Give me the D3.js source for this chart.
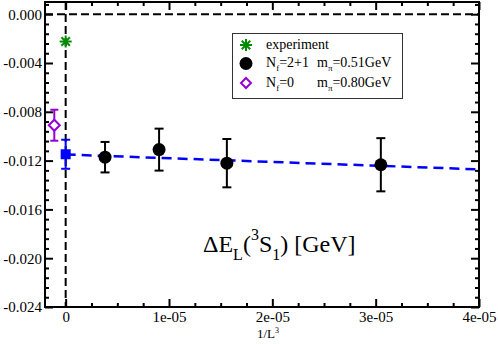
<!DOCTYPE html>
<html>
<head>
<meta charset="utf-8">
<script src="https://cdn.jsdelivr.net/npm/d3@7"></script>
<style>
  body { margin: 0; background: #fff; }
  svg { display: block; font-family: "Liberation Serif", "Times New Roman", serif; }
  .axis path.domain { display: none; }
  .axis line { stroke: #000; stroke-width: 2; }
</style>
</head>
<body>
<svg id="chart" width="498" height="344"></svg>
<script>
// osie
const xTicks = [0, 1e-5, 2e-5, 3e-5, 4e-5];
const xTickLabels = ["0", "1e-05", "2e-05", "3e-05", "4e-05"];
const yTicks = [-0.024, -0.020, -0.016, -0.012, -0.008, -0.004, 0.000];
const yTickLabels = ["-0.024", "-0.020", "-0.016", "-0.012", "-0.008", "-0.004", "0.000"];

// Nf=2+1, m_pi=0.51GeV
const nf21X = [3.81e-6, 9.04e-6, 15.6e-6, 30.5e-6];
const nf21E = [-0.01172, -0.01110, -0.01221, -0.01234];
const nf21Err = [0.00125, 0.00172, 0.00198, 0.00218];

// Nf=0, m_pi=0.80GeV
const nf0X = [-1.1e-6];
const nf0E = [-0.0091];
const nf0Err = [0.00127];

// ekstrapolacja L -> inf
const extrapX = [0];
const extrapE = [-0.01148];
const extrapErr = [0.00119];

// eksperyment
const expX = [0];
const expE = [-0.00224];

// dopasowanie liniowe
const fitX = [0, 4e-5];
const fitE = [-0.01150, -0.01272];

const FONT = '"Liberation Serif", "Times New Roman", serif';

const svg = d3.select('#chart');
const margin = { top: 2, right: 19, bottom: 37, left: 45 };
const width = +svg.attr('width') - margin.left - margin.right;
const height = +svg.attr('height') - margin.top - margin.bottom;
const g = svg.append('g').attr('transform', `translate(${margin.left},${margin.top})`);

const x = d3.scaleLinear().domain([-2e-6, 4e-5]).range([0, width]);
const y = d3.scaleLinear().domain([-0.024, 0.001]).range([height, 0]);

svg.append('defs').append('clipPath').attr('id', 'clip')
    .append('rect').attr('width', width).attr('height', height);

// linie przerywane zero
const plot = g.append('g').attr('clip-path', 'url(#clip)');
plot.append('line')
    .attr('x1', 0).attr('x2', width)
    .attr('y1', y(0)).attr('y2', y(0))
    .attr('stroke', '#000').attr('stroke-width', 2).attr('stroke-dasharray', '8,4');
plot.append('line')
    .attr('x1', x(0)).attr('x2', x(0))
    .attr('y1', 0).attr('y2', height)
    .attr('stroke', '#000').attr('stroke-width', 2).attr('stroke-dasharray', '8,4');

// podzialki pomocnicze
const xMinor = d3.range(-2.5e-6, 4.01e-5, 2.5e-6).filter(v => Math.abs(v / 1e-5 - Math.round(v / 1e-5)) > 1e-6 && v >= -2e-6);
const yMinor = d3.range(-0.024, 0.0011, 0.0008).filter(v => Math.abs(v / 0.004 - Math.round(v / 0.004)) > 1e-6);

function styleAxis(sel) {
    sel.attr('class', 'axis').attr('font-family', FONT).attr('font-size', 15);
    sel.selectAll('text').attr('fill', '#000');
}

g.append('g')
    .attr('transform', `translate(0,${height})`)
    .call(d3.axisBottom(x).tickValues(xTicks).tickSize(-8).tickSizeOuter(0).tickPadding(4)
        .tickFormat((d, i) => xTickLabels[i]))
    .call(styleAxis);
g.append('g')
    .attr('transform', `translate(0,${height})`)
    .call(d3.axisBottom(x).tickValues(xMinor).tickSize(-4).tickSizeOuter(0).tickFormat(''))
    .call(styleAxis);
g.append('g')
    .call(d3.axisTop(x).tickValues(xTicks).tickSize(-8).tickSizeOuter(0).tickFormat(''))
    .call(styleAxis);
g.append('g')
    .call(d3.axisTop(x).tickValues(xMinor).tickSize(-4).tickSizeOuter(0).tickFormat(''))
    .call(styleAxis);

g.append('g')
    .call(d3.axisLeft(y).tickValues(yTicks).tickSize(-8).tickSizeOuter(0).tickPadding(3)
        .tickFormat((d, i) => yTickLabels[i]))
    .call(styleAxis);
g.append('g')
    .call(d3.axisLeft(y).tickValues(yMinor).tickSize(-4).tickSizeOuter(0).tickFormat(''))
    .call(styleAxis);
g.append('g')
    .attr('transform', `translate(${width},0)`)
    .call(d3.axisRight(y).tickValues(yTicks).tickSize(-8).tickSizeOuter(0).tickFormat(''))
    .call(styleAxis);
g.append('g')
    .attr('transform', `translate(${width},0)`)
    .call(d3.axisRight(y).tickValues(yMinor).tickSize(-4).tickSizeOuter(0).tickFormat(''))
    .call(styleAxis);

// ramka
g.append('rect')
    .attr('width', width).attr('height', height)
    .attr('fill', 'none').attr('stroke', '#000').attr('stroke-width', 2);

// linia dopasowania
const fitData = fitX.map((v, i) => ({ x: v, e: fitE[i] }));
plot.append('path')
    .datum(fitData)
    .attr('fill', 'none')
    .attr('stroke', '#0000ff')
    .attr('stroke-width', 2.5)
    .attr('stroke-dasharray', '10,6')
    .attr('d', d3.line().x(d => x(d.x)).y(d => y(d.e)));

// slupki bledow
function errorBars(xs, es, errs, color, cap) {
    const data = xs.map((v, i) => ({ x: v, e: es[i], err: errs[i] }));
    const eg = g.append('g').attr('stroke', color).attr('stroke-width', 2);
    eg.selectAll('.bar').data(data).enter().append('line')
        .attr('x1', d => x(d.x)).attr('x2', d => x(d.x))
        .attr('y1', d => y(d.e + d.err)).attr('y2', d => y(d.e - d.err));
    eg.selectAll('.capTop').data(data).enter().append('line')
        .attr('x1', d => x(d.x) - cap).attr('x2', d => x(d.x) + cap)
        .attr('y1', d => y(d.e + d.err)).attr('y2', d => y(d.e + d.err));
    eg.selectAll('.capBot').data(data).enter().append('line')
        .attr('x1', d => x(d.x) - cap).attr('x2', d => x(d.x) + cap)
        .attr('y1', d => y(d.e - d.err)).attr('y2', d => y(d.e - d.err));
}

errorBars(nf21X, nf21E, nf21Err, '#000', 4.5);
errorBars(nf0X, nf0E, nf0Err, '#9400d3', 4);
errorBars(extrapX, extrapE, extrapErr, '#0000ff', 4.5);

// symbole
function star(sel, cx, cy, r, color) {
    const s = sel.append('g').attr('stroke', color).attr('stroke-width', 2);
    [0, 45, 90, 135].forEach(a => {
        const dx = r * Math.cos(a * Math.PI / 180), dy = r * Math.sin(a * Math.PI / 180);
        s.append('line').attr('x1', cx - dx).attr('x2', cx + dx).attr('y1', cy - dy).attr('y2', cy + dy);
    });
}
function diamond(sel, cx, cy, r, color) {
    sel.append('path')
        .attr('d', `M${cx},${cy - r}L${cx + r},${cy}L${cx},${cy + r}L${cx - r},${cy}Z`)
        .attr('fill', '#fff').attr('stroke', color).attr('stroke-width', 2);
}

g.selectAll('.pt21').data(nf21X).enter().append('circle')
    .attr('cx', d => x(d)).attr('cy', (d, i) => y(nf21E[i]))
    .attr('r', 6.5).attr('fill', '#000');

nf0X.forEach((v, i) => diamond(g, x(v), y(nf0E[i]), 5.5, '#9400d3'));

g.selectAll('.ptEx').data(extrapX).enter().append('rect')
    .attr('x', d => x(d) - 5).attr('y', (d, i) => y(extrapE[i]) - 5)
    .attr('width', 10).attr('height', 10).attr('fill', '#0000ff');

expX.forEach((v, i) => star(g, x(v), y(expE[i]), 6, '#008b00'));

// legenda
const leg = svg.append('g');
leg.append('rect')
    .attr('x', 232.5).attr('y', 33.5).attr('width', 170).attr('height', 65)
    .attr('fill', '#fff').attr('stroke', '#333').attr('stroke-width', 1);
star(leg, 246, 45, 6, '#008b00');
leg.append('circle').attr('cx', 246).attr('cy', 63.5).attr('r', 6.5).attr('fill', '#000');
diamond(leg, 246, 83, 5, '#9400d3');

const lt = leg.append('g').attr('font-size', '14px').attr('fill', '#000');
lt.append('text').attr('x', 266).attr('y', 48.5).text('experiment');
const t2 = lt.append('text').attr('x', 266).attr('y', 66.5);
t2.append('tspan').text('N');
t2.append('tspan').attr('font-size', '9px').attr('dy', 4).text('f');
t2.append('tspan').attr('dy', -4).text('=2+1');
t2.append('tspan').attr('x', 317).text('m');
t2.append('tspan').attr('font-size', '9px').attr('dy', 4).text('π');
t2.append('tspan').attr('dy', -4).text('=0.51GeV');
const t3 = lt.append('text').attr('x', 266).attr('y', 86.5);
t3.append('tspan').text('N');
t3.append('tspan').attr('font-size', '9px').attr('dy', 4).text('f');
t3.append('tspan').attr('dy', -4).text('=0');
t3.append('tspan').attr('x', 317).text('m');
t3.append('tspan').attr('font-size', '9px').attr('dy', 4).text('π');
t3.append('tspan').attr('dy', -4).text('=0.80GeV');

// opis osi x
const xl = svg.append('text').attr('x', 257).attr('y', 338).attr('font-size', '13px');
xl.append('tspan').text('1/L');
xl.append('tspan').attr('font-size', '8px').attr('dy', -5).text('3');

// etykieta wielkosci
const bl = svg.append('text').attr('x', 203).attr('y', 252).attr('font-size', '24px');
bl.append('tspan').text('ΔE');
bl.append('tspan').attr('font-size', '16px').attr('dy', 8).text('L');
bl.append('tspan').attr('dy', -8).text('(');
bl.append('tspan').attr('font-size', '16px').attr('dy', -12).text('3');
bl.append('tspan').attr('dy', 12).text('S');
bl.append('tspan').attr('font-size', '16px').attr('dy', 8).text('1');
bl.append('tspan').attr('dy', -8).text(') [GeV]');
</script>
</body>
</html>
